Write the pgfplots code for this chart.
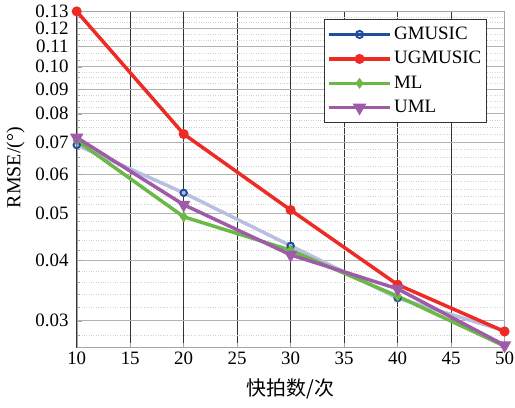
\documentclass[border=0pt]{standalone}
\usepackage{pgfplots}
\pgfplotsset{compat=1.18}
\usepackage{fontspec}
\setmainfont{Liberation Serif}
\newfontfamily\cjk{Noto Sans CJK SC}
\definecolor{cgm}{HTML}{1F4E9C}
\definecolor{cgmline}{HTML}{B8BFE0}
\definecolor{cug}{HTML}{EE2A24}
\definecolor{cml}{HTML}{6AB946}
\definecolor{cuml}{HTML}{A05BA8}
\begin{document}
\fontsize{20}{24}\selectfont
\begin{tikzpicture}
\begin{axis}[
  scale only axis,
  width=430pt, height=338pt,
  ymode=log,
  xmin=10, xmax=50,
  ymin=0.0264, ymax=0.13,
  xtick={10,15,20,25,30,35,40,45,50},
  ytick={0.03,0.04,0.05,0.06,0.07,0.08,0.09,0.10,0.11,0.12,0.13},
  yticklabels={0.03,0.04,0.05,0.06,0.07,0.08,0.09,0.10,0.11,0.12,0.13},
  minor ytick={0.028,0.032,0.034,0.036,0.038,0.042,0.044,0.046,0.048,0.052,0.054,0.056,0.058,0.0625,0.065,0.0675,0.0725,0.075,0.0775,0.0825,0.085,0.0875,0.0925,0.095,0.0975,0.1033,0.1067,0.1133,0.1167,0.1233,0.1267},
  /pgf/number format/assume math mode=true,
  ticklabel style={font=\fontsize{19}{20}\selectfont, inner sep=1pt},
  yticklabel style={xshift=-7pt},
  xticklabel style={yshift=-3pt},
  xlabel={{\cjk 快拍数/次}},
  ylabel={RMSE/(°)},
  label style={font=\fontsize{20}{24}\selectfont},
  xlabel style={yshift=-6pt},
  ylabel style={yshift=3pt, xshift=12pt},
  axis line style={gray!70},
  tick style={gray!70, thin},
  major tick length=5pt, minor tick length=3pt,
  tick align=inside,
  xtick pos=left, ytick pos=left,
  xmajorgrids, ymajorgrids, yminorgrids,
  x grid style={black!80, line width=0.6pt},
  major y grid style={gray!60, line width=0.8pt},
  minor y grid style={gray!35, dotted, line width=0.5pt},
  legend style={at={(0.958,0.976)}, anchor=north east, draw=black!80, line width=0.6pt,
    font=\fontsize{19}{19}\selectfont, row sep=5pt, inner xsep=3pt, inner ysep=5pt,
    nodes={inner xsep=2pt}, cells={anchor=west}},
  legend cell align=left,
  legend image code/.code={
    \draw[#1, line width=3.5pt] (0pt,0pt) -- (62pt,0pt);
    \draw[#1, only marks] plot coordinates {(31pt,0pt)};
  },
  every axis plot/.append style={line width=3.5pt},
]
\addplot[forget plot, color=cgmline, mark=o, mark options={draw=cgm, fill=white, line width=2pt, scale=1.6}]
  coordinates {(10,0.069) (20,0.055) (30,0.0428) (40,0.0334) (50,0.0286)};
\addlegendimage{color=cgm, mark=o, mark options={draw=cgm, fill=white, line width=2pt, scale=1.8}}
\addlegendentry{GMUSIC}
\addplot[color=cug, mark=*, mark options={fill=cug, draw=cug, scale=1.6}]
  coordinates {(10,0.13) (20,0.0727) (30,0.0507) (40,0.0356) (50,0.0285)};
\addlegendentry{UGMUSIC}
\addplot[color=cml, mark=diamond*, mark options={fill=cml, draw=cml, scale=1.3}]
  coordinates {(10,0.0705) (20,0.0491) (30,0.0419) (40,0.0337) (50,0.0266)};
\addlegendentry{ML}
\addplot[color=cuml, mark=triangle*, mark options={fill=cuml, draw=cuml, rotate=180, scale=2.2}]
  coordinates {(10,0.0715) (20,0.052) (30,0.041) (40,0.0349) (50,0.0267)};
\addlegendentry{UML}
\end{axis}
\path (current bounding box.north) ++(0pt,4pt);
\path (current bounding box.south) ++(0pt,-2pt);
\end{tikzpicture}
\end{document}
